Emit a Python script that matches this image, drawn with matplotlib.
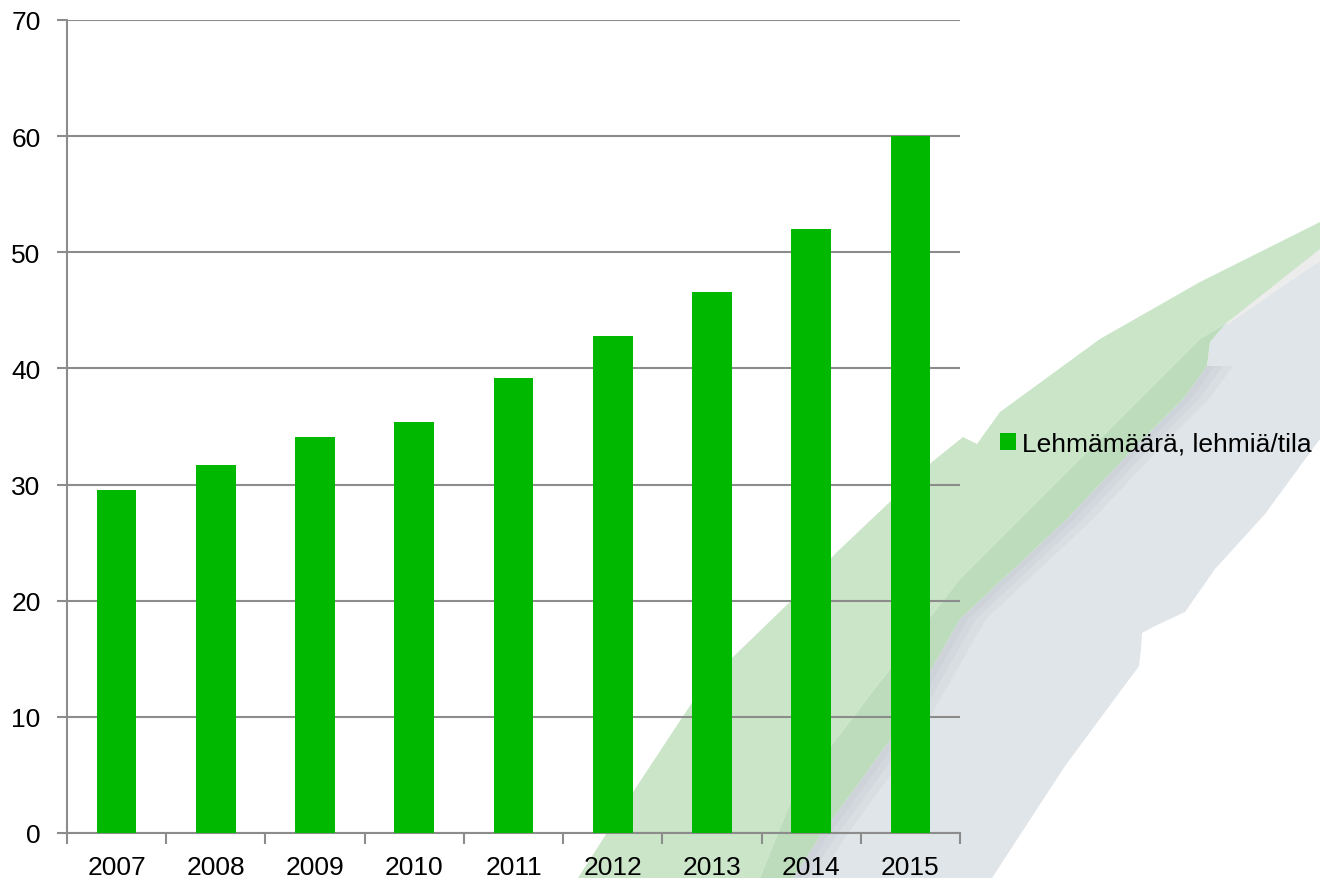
import matplotlib
matplotlib.use("Agg")
import matplotlib.pyplot as plt
from matplotlib.patches import Polygon, Patch

plt.rcParams["font.family"] = ["Liberation Sans", "DejaVu Sans"]

# data
years = ["2007", "2008", "2009", "2010", "2011", "2012", "2013", "2014", "2015"]
cows_per_farm = [29.5, 31.7, 34.1, 35.4, 39.2, 42.8, 46.6, 52.0, 60.0]
series_label = "Lehmämäärä, lehmiä/tila"
y_ticks = [0, 10, 20, 30, 40, 50, 60, 70]

BAR = "#00b800"
GRID = "#8c8c8c"

W, H = 1320, 879
fig = plt.figure(figsize=(W / 100, H / 100), dpi=100)

# decorative background swooshes (pixel coords, y down)
bg = fig.add_axes([0, 0, 1, 1], zorder=0)
bg.set_xlim(0, W)
bg.set_ylim(H, 0)
bg.axis("off")

light_green = [(578, 879), (637, 787), (703, 687), (793, 600), (837, 553),
               (932, 463), (963, 438), (977, 445), (1000, 413), (1100, 340),
               (1200, 283), (1320, 223), (1320, 250), (1225, 325),
               (1200, 340), (1020, 520), (960, 580), (877, 687), (793, 797),
               (760, 879)]
dark_green = [(1225, 325), (1200, 340), (1020, 520), (960, 580), (877, 687),
              (793, 797), (760, 879), (793, 879), (820, 837), (893, 737),
              (960, 620), (1067, 520), (1133, 450), (1183, 400), (1207, 367),
              (1210, 343), (1227, 323)]
pale_strip = [(1320, 248), (1320, 262), (1227, 326), (1222, 322)]
# left edge of the grey band, top to bottom
gray_left = [(1227, 323), (1210, 343), (1207, 367), (1183, 400), (1133, 450),
             (1067, 520), (960, 620), (893, 737), (820, 837), (793, 879)]
gray = [(1320, 262), (1320, 440), (1265, 515), (1215, 570),
        (1185, 613), (1155, 627), (1142, 634), (1141, 650), (1139, 667),
        (1065, 767), (992, 879)] + list(reversed(gray_left))

bg.add_patch(Polygon(gray, closed=True, facecolor="#e0e5e9", edgecolor="none"))
# soft shadow along the left edge of the grey band
shadow_edge = gray_left[2:]
for off in (8, 16, 26):
    strip = shadow_edge + [(px + off, py) for px, py in reversed(shadow_edge)]
    bg.add_patch(Polygon(strip, closed=True, facecolor="#bcc3ca",
                         edgecolor="none", alpha=0.2))
bg.add_patch(Polygon(pale_strip, closed=True, facecolor="#ececec", edgecolor="none"))
bg.add_patch(Polygon(light_green, closed=True, facecolor="#cae5c8", edgecolor="none"))
bg.add_patch(Polygon(dark_green, closed=True, facecolor="#bcdcbb", edgecolor="none"))

# main chart
ax = fig.add_axes([67 / W, 45 / H, (960 - 67) / W, (834 - 21) / H], zorder=1)
ax.patch.set_alpha(0)

x = list(range(len(years)))
ax.bar(x, cows_per_farm, width=0.4, color=BAR, zorder=3)

ax.set_xlim(-0.5, len(years) - 0.5)
ax.set_ylim(0, 70)
ax.set_yticks(y_ticks)
ax.set_yticklabels([str(v) for v in y_ticks], fontsize=19)
ax.set_xticks(x)
ax.set_xticklabels(years, fontsize=19)
ax.set_xticks([i - 0.5 for i in range(len(years) + 1)], minor=True)

ax.yaxis.grid(True, color=GRID, linewidth=1.5, zorder=1)
ax.set_axisbelow(True)

for side in ("top", "right"):
    ax.spines[side].set_visible(False)
for side in ("left", "bottom"):
    ax.spines[side].set_color(GRID)
    ax.spines[side].set_linewidth(1.5)

ax.tick_params(axis="y", direction="out", length=7, width=1.5, color=GRID,
               pad=12, labelcolor="black")
ax.tick_params(axis="x", which="major", length=0, pad=16, labelcolor="black")
ax.tick_params(axis="x", which="minor", direction="out", length=8, width=1.5,
               color=GRID)

fig.legend(handles=[Patch(facecolor=BAR, edgecolor="none", label=series_label)],
           loc="center left", bbox_to_anchor=(1000 / W, 1 - 445 / H),
           frameon=False, fontsize=19, handlelength=0.6, handleheight=0.6,
           handletextpad=0.25, borderpad=0, borderaxespad=0)

fig.savefig("out.png", dpi=100)
